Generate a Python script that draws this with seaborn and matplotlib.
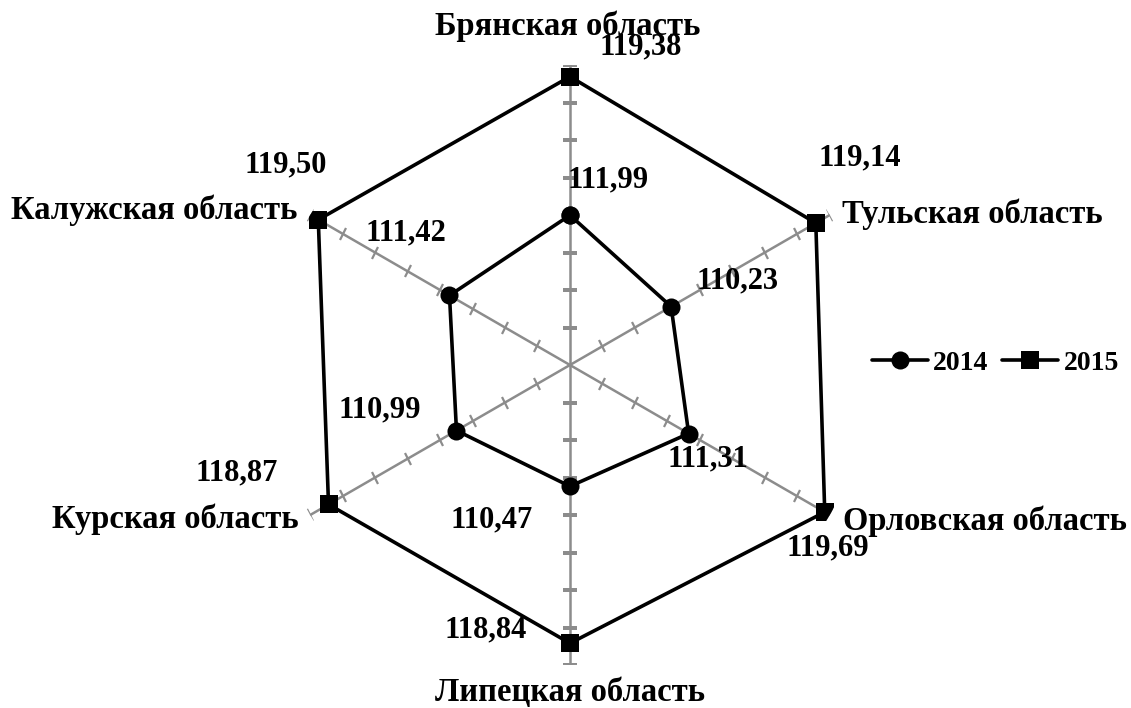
import numpy as np
import pandas as pd
import seaborn as sns
import matplotlib.pyplot as plt
from matplotlib.markers import MarkerStyle

# Данные
regions = ['Брянская область', 'Тульская область', 'Орловская область',
           'Липецкая область', 'Курская область', 'Калужская область']
vals_2014 = [111.99, 110.23, 111.31, 110.47, 110.99, 111.42]
vals_2015 = [119.38, 119.14, 119.69, 118.84, 118.87, 119.50]
years = ['2014', '2015']
r_min, r_max, r_step = 104, 120, 2

sns.set_style('white')
plt.rcParams['font.family'] = ['Liberation Serif', 'DejaVu Serif']
plt.rcParams['font.weight'] = 'bold'
plt.rcParams['text.color'] = 'black'

n = len(regions)
theta = np.arange(n) * 2 * np.pi / n
theta_closed = np.append(theta, 2 * np.pi)

# длинная таблица, первая точка повторяется, чтобы замкнуть многоугольник
rows = []
for year, vals in zip(years, [vals_2014, vals_2015]):
    for i in range(n + 1):
        rows.append({'year': year, 'theta': theta_closed[i], 'value': vals[i % n]})
df = pd.DataFrame(rows)

fig = plt.figure(figsize=(11.31, 7.08), dpi=100)
ax = fig.add_axes([0.2387, 0.0607, 0.5305, 0.8475], projection='polar')
ax.set_theta_zero_location('N')
ax.set_theta_direction(-1)

# оси-лучи с засечками
ticks_r = np.arange(r_min + r_step, r_max + 0.1, r_step)
for t in theta:
    ax.plot([t, t], [r_min, r_max], color='#8c8c8c', lw=1.8, zorder=1)
    ax.plot([t] * len(ticks_r), ticks_r, ls='none', color='#8c8c8c',
            marker=MarkerStyle('_').rotated(deg=-np.degrees(t)),
            markersize=10, mew=1.6, zorder=1)

n_before = len(ax.lines)
sns.lineplot(data=df, x='theta', y='value', hue='year', style='year',
             markers=['o', 's'], dashes=False, sort=False, estimator=None,
             palette=['black', 'black'], linewidth=2.6, markersize=13,
             markeredgewidth=0, legend=False, ax=ax, zorder=3)
handles = ax.lines[n_before:n_before + 2]

ax.set_ylim(r_min, r_max)
ax.set_xticks([])
ax.set_yticks([])
ax.grid(False)
ax.spines['polar'].set_visible(False)
ax.set_xlabel('')
ax.set_ylabel('')

# подписи значений
off_2014 = [(38, 35), (66, 26), (19, -25), (-78, -34), (-77, 21), (-44, 63)]
off_2015 = [(71, 30), (44, 65), (3, -36), (-84, 13), (-92, 32), (-33, 55)]
for vals, offs in [(vals_2014, off_2014), (vals_2015, off_2015)]:
    for t, v, o in zip(theta, vals, offs):
        ax.annotate(f'{v:.2f}'.replace('.', ','), xy=(t, v), xytext=o,
                    textcoords='offset pixels', ha='center', va='center',
                    fontsize=22, fontweight='bold', annotation_clip=False)

# подписи категорий
cat_pos = [((-2, 39), 'center'), ((12, 1), 'left'), ((13, -6), 'left'),
           ((0, -27), 'center'), ((-12, -4), 'right'), ((-13, 5), 'right')]
for t, name, (o, ha) in zip(theta, regions, cat_pos):
    ax.annotate(name, xy=(t, r_max), xytext=o, textcoords='offset pixels',
                ha=ha, va='center', fontsize=23.5, fontweight='bold',
                annotation_clip=False)

fig.legend(handles, years, loc='center left', bbox_to_anchor=(0.771, 1 - 363 / 708),
           ncol=2, frameon=False, handlelength=2.0,
           handletextpad=0.2, columnspacing=0.5, borderaxespad=0, borderpad=0,
           prop={'weight': 'bold', 'size': 20})

plt.savefig('out.png', dpi=100)
